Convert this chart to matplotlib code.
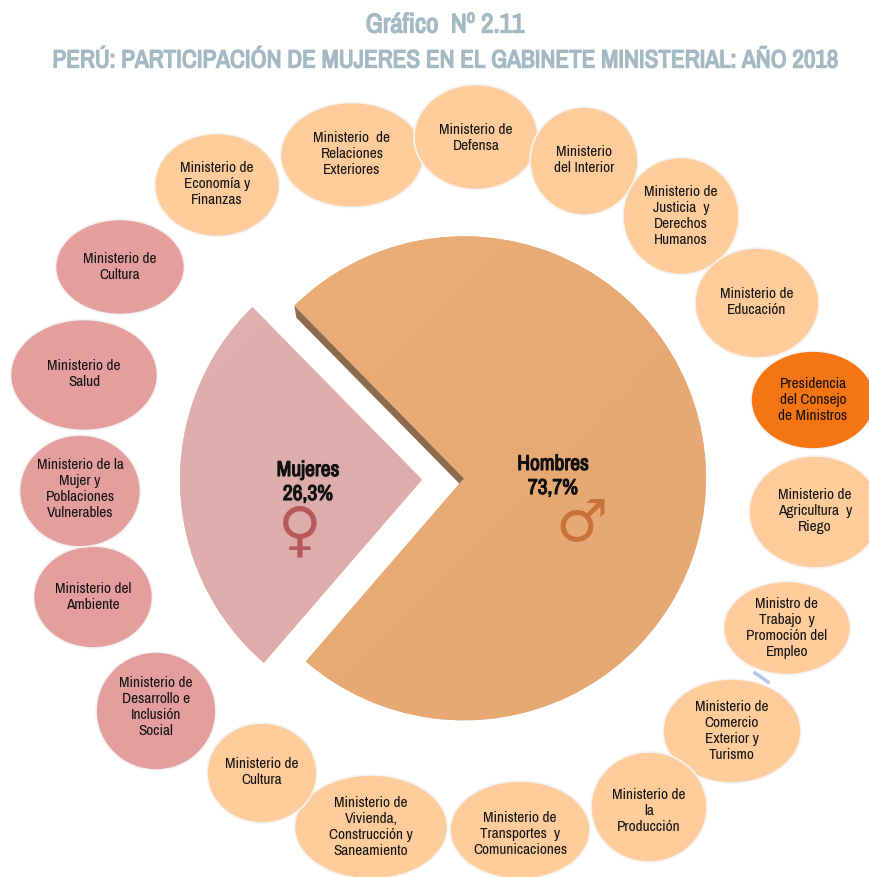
import numpy as np
import matplotlib
matplotlib.use("Agg")
import matplotlib.pyplot as plt
import matplotlib.patheffects as pe
from matplotlib.colors import LinearSegmentedColormap
from matplotlib.patches import Ellipse, Polygon

W, H = 870, 877

# ---- data ----
sectors = ["Mujeres", "Hombres"]
shares = [26.3, 73.7]
share_labels = ["26,3%", "73,7%"]
symbols = ["\u2640", "\u2642"]

ministries = [
    "Ministerio  de\nRelaciones\nExteriores",
    "Ministerio de\nDefensa",
    "Ministerio\ndel Interior",
    "Ministerio de\nJusticia  y\nDerechos\nHumanos",
    "Ministerio de\nEducación",
    "Presidencia\ndel Consejo\nde Ministros",
    "Ministerio de\nAgricultura  y\nRiego",
    "Ministro de\nTrabajo  y\nPromoción del\nEmpleo",
    "Ministerio de\nComercio\nExterior y\nTurismo",
    "Ministerio de\nla\nProducción",
    "Ministerio de\nTransportes  y\nComunicaciones",
    "Ministerio de\nVivienda,\nConstrucción y\nSaneamiento",
    "Ministerio de\nCultura",
    "Ministerio de\nDesarrollo e\nInclusión\nSocial",
    "Ministerio del\nAmbiente",
    "Ministerio de la\nMujer y\nPoblaciones\nVulnerables",
    "Ministerio de\nSalud",
    "Ministerio de\nCultura",
    "Ministerio de\nEconomía y\nFinanzas",
]
# H = hombre, M = mujer, P = presidencia
holders = list("HHHHHPHHHHHHHMMMMMH")

# ---- layout, in reference pixels: cx, cy, width, height ----
bubbles = [
    (352, 155, 143, 105), (476, 137, 124, 105), (584, 161, 108, 108),
    (681, 216, 116, 117), (757, 303, 124, 110), (813, 400, 124, 98),
    (815, 512, 132, 112), (787, 628, 127, 93), (732, 731, 138, 104),
    (649, 807, 116, 110), (520, 830, 140, 98), (371, 827, 153, 104),
    (262, 773, 110, 100), (156, 711, 120, 118), (93, 597, 119, 102),
    (80, 491, 121, 112), (84, 375, 147, 111), (120, 267, 129, 95),
    (217, 185, 125, 103),
]
text_y = [154, 138, 160, 216, 302, 400, 511, 628, 731, 811, 834, 827, 772, 707, 597, 489, 374, 267, 184]
holder_colors = {"H": "#FDCC9A", "M": "#E59E9E", "P": "#F47512"}

PIE_X, PIE_Y, PIE_R = 443, H - 479, 242
EXPLODE = 21
START = 134.5

FONTS = ["Archivo Narrow", "Liberation Sans", "DejaVu Sans"]
plt.rcParams["font.family"] = FONTS


def fake_bold(color, lw):
    # the narrow font has no bold cut here, so thicken it with a thin stroke
    return [pe.withStroke(linewidth=lw, foreground=color)]


fig = plt.figure(figsize=(W / 100, H / 100), dpi=100)
ax = fig.add_axes([0, 0, 1, 1])

# ---- pie ----
wedges, _ = ax.pie(shares, explode=[EXPLODE, EXPLODE], center=(PIE_X, PIE_Y), radius=PIE_R,
                   startangle=START, counterclock=True, colors=["#DEACAB", "#E9AA74"],
                   wedgeprops={"linewidth": 0})

# gradients clipped to the wedges
grads = [("#E2B4B4", "#D9A5A3"), ("#EFB27C", "#E2A470")]
yy, xx = np.mgrid[0:1:200j, 0:1:200j]
for w, (c0, c1) in zip(wedges, grads):
    cmap = LinearSegmentedColormap.from_list("g", [c0, c1])
    im = ax.imshow((xx + yy) / 2, cmap=cmap, extent=(0, W, 0, H), origin="upper", zorder=2, aspect="auto")
    im.set_clip_path(w)

# dark side wall of the Hombres slice
hw = wedges[1]
tx, ty = hw.center
a = np.radians(hw.theta2)
rim = (tx + PIE_R * np.cos(a), ty + PIE_R * np.sin(a))
ax.add_patch(Polygon([rim, (tx, ty), (tx, ty - 10), (rim[0] + 2, rim[1] - 12)],
                     closed=True, color="#8C6A4C", zorder=1.5, lw=0))

# ---- bubbles ----
for (cx, cy, bw, bh), who in zip(bubbles, holders):
    ax.add_patch(Ellipse((cx, H - cy), bw, bh, facecolor=holder_colors[who],
                         edgecolor="#F4F4F4", linewidth=1.2, zorder=3))
for name, (cx, _, _, _), ty_ in zip(ministries, bubbles, text_y):
    ax.text(cx, H - ty_, name, ha="center", va="center", fontsize=11, color="#111111",
            linespacing=1.16, zorder=4)

# small leftover connector
ax.plot([755, 768], [H - 673, H - 682], color="#B4C7E7", lw=2.5, zorder=2.5)

# ---- pie labels ----
label_x = [308, 553]
label_y = [470, 464]
for x, y, s, lab in zip(label_x, label_y, sectors, share_labels):
    ax.text(x, H - y, s, ha="center", va="center", fontsize=15.5, color="#111111", zorder=5,
            path_effects=fake_bold("#111111", 0.8))
    ax.text(x, H - y - 24, lab, ha="center", va="center", fontsize=15.5, color="#111111", zorder=5,
            path_effects=fake_bold("#111111", 0.8))
ax.text(300, H - 533, symbols[0], ha="center", va="center", fontsize=43, color="#B5595B",
        family="DejaVu Sans", zorder=5)
ax.text(582, H - 524, symbols[1], ha="center", va="center", fontsize=42, color="#C9733A",
        family="DejaVu Sans", zorder=5)

# ---- titles ----
ax.text(445, H - 25, "Gráfico  Nº 2.11", ha="center", va="center", fontsize=19.5, color="#A4B9C3",
        path_effects=fake_bold("#A4B9C3", 1.0))
ax.text(445, H - 60, "PERÚ: PARTICIPACIÓN DE MUJERES EN EL GABINETE MINISTERIAL: AÑO 2018",
        ha="center", va="center", fontsize=18.1, color="#A4B9C3",
        path_effects=fake_bold("#A4B9C3", 1.0))

ax.set_xlim(0, W)
ax.set_ylim(0, H)
ax.set_aspect("auto")
ax.axis("off")

fig.savefig("out.png", dpi=100)
plt.close(fig)
